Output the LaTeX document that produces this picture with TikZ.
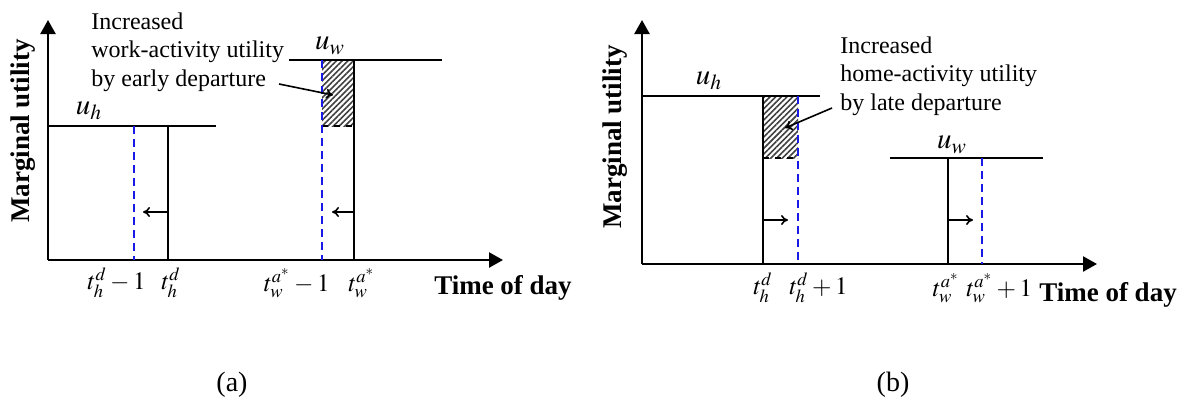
\documentclass[tikz,border=0pt]{standalone}
\usepackage{mathptmx}
\usepackage{fontspec}
\setmainfont{Liberation Serif}
\usepackage{tikz}
\usetikzlibrary{arrows.meta,patterns.meta}
\definecolor{shiftblue}{HTML}{1A1AE6}
\tikzset{
  axis/.style={line width=1.2pt,-{Triangle[length=7pt,width=7.5pt]}},
  level/.style={line width=0.9pt},
  shifted/.style={shiftblue,line width=0.9pt,dash pattern=on 4pt off 2.5pt},
  hatch/.style={pattern={Lines[angle=45,distance=2pt,line width=0.8pt]},pattern color=black!75},
  move/.style={line width=0.8pt,-{To[length=3.5pt,width=5pt]}},
  lbl/.style={inner sep=0pt,font=\fontsize{12.5}{15}\selectfont},
  ulbl/.style={inner sep=0pt,font=\fontsize{14.5}{16}\selectfont},
  note/.style={inner sep=0pt,align=left,font=\fontsize{12}{14.25}\selectfont},
  axlbl/.style={inner sep=0pt,font=\fontsize{13.5}{15}\selectfont\bfseries},
}

\begin{document}
\begin{tikzpicture}[x=0.5pt,y=0.5pt]
  \useasboundingbox (0,0) rectangle (1186,403);
  % (a) early departure
  \coordinate (Oa) at (48,143);
  \draw[axis] (Oa) -- (48,383);
  \draw[axis] (Oa) -- (503,143);
  \node[axlbl,rotate=90] (ya) at (23,272) {Marginal utility};
  \node[axlbl] (xa) at (503,115) {Time of day};
  % home activity
  \draw[level] (48,277) -- (216,277);
  \draw[shifted] (134,277) -- (134,143);
  \draw[level] (168,277) -- (168,143);
  \draw[move] (168,191) -- (143,191);
  \node[ulbl] (uha) at (89,292) {$u_h$};
  % work activity
  \fill[hatch] (322,277) rectangle (354,343);
  \draw[level,dashed] (322,277) -- (354,277);
  \draw[level] (289,343) -- (442,343);
  \draw[shifted] (322,343) -- (322,143);
  \draw[level] (354,343) -- (354,143);
  \draw[move] (354,191) -- (332,191);
  \node[ulbl] (uwa) at (330,357) {$u_w$};
  \node[note,anchor=north west] (notea) at (91,391) {Increased\\work-activity utility\\by early departure};
  \coordinate (sa) at (279,319);
  \coordinate (ea) at (333,308);
  \draw[move] (sa) -- (ea);
  \node[lbl,anchor=east] (ta1) at (146,120) {$t_h^d -1$};
  \node[lbl,anchor=west] (ta2) at (161,120) {$t_h^d$};
  \node[lbl,anchor=east] (ta3) at (330,120) {$t_w^{a^*} -1$};
  \node[lbl,anchor=west] (ta4) at (348,120) {$t_w^{a^*}$};
  \node[font=\fontsize{14}{16}\selectfont] (capa) at (232,18) {(a)};
  % (b) late departure
  \coordinate (Ob) at (642,139);
  \draw[axis] (Ob) -- (642,383);
  \draw[axis] (Ob) -- (1097,139);
  \node[axlbl,rotate=90] (yb) at (615,266) {Marginal utility};
  \node[axlbl] (xb) at (1108,108) {Time of day};
  % home activity
  \fill[hatch] (763,245) rectangle (798,307);
  \draw[level,dashed] (763,245) -- (798,245);
  \draw[level] (642,307) -- (820,307);
  \draw[level] (763,307) -- (763,139);
  \draw[shifted] (798,307) -- (798,139);
  \draw[move] (763,183) -- (788,183);
  \node[ulbl] (uhb) at (709,322) {$u_h$};
  % work activity
  \draw[level] (890,245) -- (1043,245);
  \draw[level] (948,245) -- (948,139);
  \draw[shifted] (982,245) -- (982,139);
  \draw[move] (948,183) -- (973,183);
  \node[ulbl] (uwb) at (952,258) {$u_w$};
  \node[note,anchor=north west] (noteb) at (840,367) {Increased\\home-activity utility\\by late departure};
  \coordinate (sb) at (832,295);
  \coordinate (eb) at (785,275);
  \draw[move] (sb) -- (eb);
  \node[lbl] (tb1) at (763,115) {$t_h^d$};
  \node[lbl,anchor=west] (tb2) at (789,115) {$t_h^d +1$};
  \node[lbl,anchor=east] (tb3) at (960,115) {$t_w^{a^*}$};
  \node[lbl,anchor=west] (tb4) at (966,115) {$t_w^{a^*} +1$};
  \node[font=\fontsize{14}{16}\selectfont] (capb) at (893,18) {(b)};
\end{tikzpicture}
\end{document}
